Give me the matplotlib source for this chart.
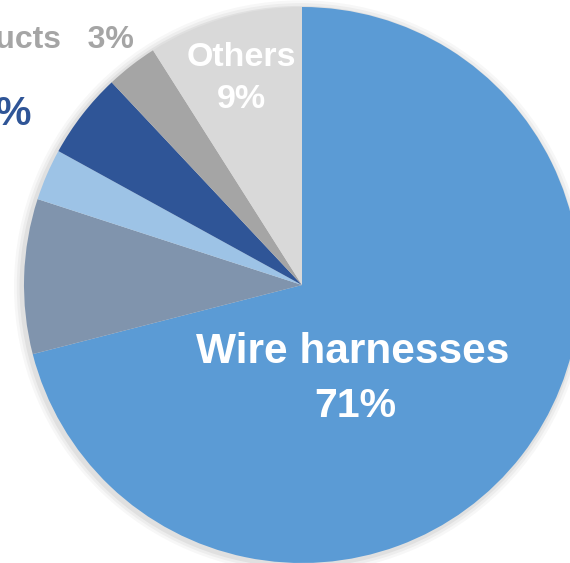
import matplotlib
matplotlib.use("Agg")
import matplotlib.pyplot as plt
from matplotlib.patches import Circle

plt.rcParams["font.family"] = ["Liberation Sans", "DejaVu Sans"]

# sales share by product segment, clockwise from 12 o'clock
segments = ["Wire harnesses", "Automotive parts", "Connectors",
            "Electronic components", "Electronic products", "Others"]
shares = [71, 9, 3, 5, 3, 9]
colors = ["#5B9BD5", "#8094AD", "#9DC3E6", "#2F5597", "#A5A5A5", "#D9D9D9"]

W, H = 570, 563
CX, CY, R = 302, 285, 278  # pie centre / radius in pixels

fig = plt.figure(figsize=(W / 100, H / 100), dpi=100)
ax = fig.add_axes([0, 0, 1, 1])

# soft drop shadow round the rim
for i, a in enumerate([0.03, 0.04, 0.05]):
    ax.add_patch(Circle((-0.006, -0.006), 1 + 0.01 * (3 - i), color="black", alpha=a, lw=0, zorder=0))

ax.pie(shares, colors=colors, startangle=90, counterclock=False, radius=1,
       wedgeprops=dict(linewidth=0), frame=True)
ax.set_xlim(-CX / R, (W - CX) / R)
ax.set_ylim((CY - H) / R, CY / R)
ax.set_aspect("auto")
ax.axis("off")


def px(x, y):
    return (x - CX) / R, (CY - y) / R


ax.text(*px(353, 352), segments[0], color="white", fontsize=30.5, fontweight="bold",
        ha="center", va="center")
ax.text(*px(355, 406), f"{shares[0]}%", color="white", fontsize=29.5, fontweight="bold",
        ha="center", va="center")
ax.text(*px(241, 57), segments[5], color="white", fontsize=24.5, fontweight="bold",
        ha="center", va="center")
ax.text(*px(241, 99), f"{shares[5]}%", color="white", fontsize=24.5, fontweight="bold",
        ha="center", va="center")
ax.text(*px(134, 40), f"{segments[4]}   {shares[4]}%", color="#A5A5A5", fontsize=23,
        fontweight="bold", ha="right", va="center")
ax.text(*px(32, 114), f"{segments[3]}  {shares[3]}%", color="#2F5597", fontsize=29,
        fontweight="bold", ha="right", va="center")

fig.savefig("out.png", dpi=100)
